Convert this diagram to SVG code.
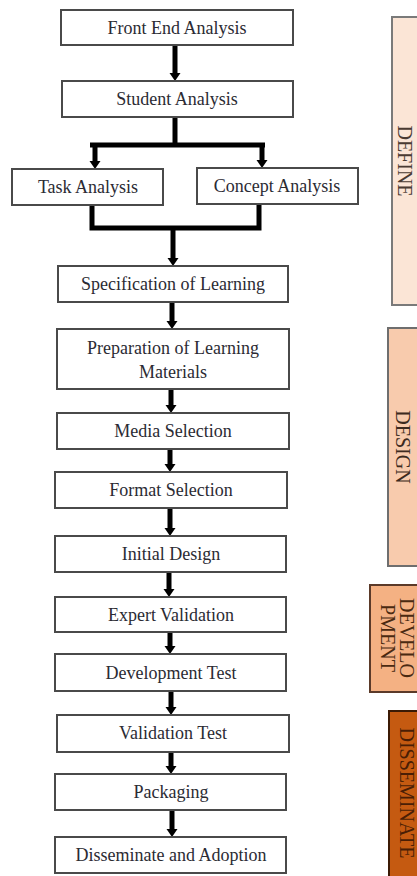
<svg xmlns="http://www.w3.org/2000/svg" width="417" height="876" viewBox="0 0 417 876">
  <style>
    .box { fill: #ffffff; stroke: #4a4a4a; stroke-width: 2; }
    .lbl { font-family: "Liberation Serif", "DejaVu Serif", serif; font-size: 18px; fill: #2b2b33; text-anchor: middle; dominant-baseline: central; }
    .flow { stroke: #000000; stroke-width: 5; fill: none; }
    .bar { stroke: #000000; stroke-width: 5; fill: none; stroke-linejoin: miter; }
    .phase { font-family: "Liberation Serif", "DejaVu Serif", serif; font-size: 20px; text-anchor: middle; dominant-baseline: central; }
  </style>
  <defs>
    <marker id="head" markerUnits="userSpaceOnUse" markerWidth="10" markerHeight="12" refX="0" refY="0" viewBox="0 -6 9 12" orient="auto" overflow="visible">
      <path d="M0,-5.5 L8,0 L0,5.5 Z" fill="#000000"/>
    </marker>
  </defs>

  <rect width="417" height="876" fill="#ffffff"/>

  <!-- phase bands on the right -->
  <g id="phase-define">
    <rect x="392" y="17" width="40" height="288" fill="#fbe5d6" stroke="#7a7a7a" stroke-width="2"/>
    <text class="phase" fill="#4a3a32" transform="translate(405,161) rotate(90)">DEFINE</text>
  </g>
  <g id="phase-design">
    <rect x="388" y="328" width="40" height="238" fill="#f8cbad" stroke="#6e6e6e" stroke-width="2"/>
    <text class="phase" fill="#3d2a20" transform="translate(403,447) rotate(90)">DESIGN</text>
  </g>
  <g id="phase-develop">
    <rect x="370" y="585" width="60" height="107" fill="#f4b183" stroke="#5b3a29" stroke-width="2"/>
    <text class="phase" font-size="18" fill="#4a2a12" transform="translate(407,638) rotate(90)">DEVELO</text>
    <text class="phase" font-size="18" fill="#4a2a12" transform="translate(388,638) rotate(90)">PMENT</text>
  </g>
  <g id="phase-disseminate">
    <rect x="389" y="711" width="40" height="180" fill="#c55a11" stroke="#3b1a05" stroke-width="2"/>
    <text class="phase" font-size="19" fill="#4a1e05" transform="translate(407,793) rotate(90)">DISSEMINATE</text>
  </g>

  <!-- connectors -->
  <g id="connectors">
    <line class="flow" x1="175" y1="45" x2="175" y2="73" marker-end="url(#head)"/>
    <!-- split into task / concept analysis -->
    <polyline class="bar" points="175,117 175,145"/>
    <polyline class="bar" points="90,145 265,145"/>
    <line class="flow" x1="95" y1="145" x2="95" y2="161" marker-end="url(#head)"/>
    <line class="flow" x1="262" y1="145" x2="262" y2="160" marker-end="url(#head)"/>
    <!-- merge into specification -->
    <polyline class="bar" points="92,205 92,228 259,228 259,204"/>
    <line class="flow" x1="173" y1="228" x2="173" y2="258" marker-end="url(#head)"/>
    <line class="flow" x1="172" y1="302" x2="172" y2="321" marker-end="url(#head)"/>
    <line class="flow" x1="171" y1="389" x2="171" y2="405" marker-end="url(#head)"/>
    <line class="flow" x1="170" y1="449" x2="170" y2="464" marker-end="url(#head)"/>
    <line class="flow" x1="170" y1="508" x2="170" y2="528" marker-end="url(#head)"/>
    <line class="flow" x1="169" y1="572" x2="169" y2="589" marker-end="url(#head)"/>
    <line class="flow" x1="170" y1="632" x2="170" y2="646" marker-end="url(#head)"/>
    <line class="flow" x1="171" y1="691" x2="171" y2="707" marker-end="url(#head)"/>
    <line class="flow" x1="171" y1="752" x2="171" y2="766" marker-end="url(#head)"/>
    <line class="flow" x1="172" y1="810" x2="172" y2="829" marker-end="url(#head)"/>
  </g>

  <!-- process steps -->
  <g id="front-end-analysis">
    <rect class="box" x="61" y="10" width="232" height="35"/>
    <text class="lbl" x="177" y="28">Front End Analysis</text>
  </g>
  <g id="student-analysis">
    <rect class="box" x="62" y="81" width="231" height="36"/>
    <text class="lbl" x="177" y="99">Student Analysis</text>
  </g>
  <g id="task-analysis">
    <rect class="box" x="12" y="169" width="151" height="36"/>
    <text class="lbl" x="88" y="187">Task Analysis</text>
  </g>
  <g id="concept-analysis">
    <rect class="box" x="197" y="168" width="161" height="36"/>
    <text class="lbl" x="277" y="186">Concept Analysis</text>
  </g>
  <g id="specification-of-learning">
    <rect class="box" x="58" y="266" width="230" height="36"/>
    <text class="lbl" x="173" y="284">Specification of Learning</text>
  </g>
  <g id="preparation-of-learning-materials">
    <rect class="box" x="57" y="329" width="232" height="60"/>
    <text class="lbl" x="173" y="348">Preparation of Learning</text>
    <text class="lbl" x="173" y="372">Materials</text>
  </g>
  <g id="media-selection">
    <rect class="box" x="57" y="413" width="232" height="36"/>
    <text class="lbl" x="173" y="431">Media Selection</text>
  </g>
  <g id="format-selection">
    <rect class="box" x="55" y="472" width="232" height="36"/>
    <text class="lbl" x="171" y="490">Format Selection</text>
  </g>
  <g id="initial-design">
    <rect class="box" x="55" y="536" width="231" height="36"/>
    <text class="lbl" x="171" y="554">Initial Design</text>
  </g>
  <g id="expert-validation">
    <rect class="box" x="55" y="597" width="231" height="35"/>
    <text class="lbl" x="171" y="615">Expert Validation</text>
  </g>
  <g id="development-test">
    <rect class="box" x="55" y="654" width="231" height="37"/>
    <text class="lbl" x="171" y="673">Development Test</text>
  </g>
  <g id="validation-test">
    <rect class="box" x="57" y="715" width="232" height="37"/>
    <text class="lbl" x="173" y="733">Validation Test</text>
  </g>
  <g id="packaging">
    <rect class="box" x="55" y="774" width="231" height="36"/>
    <text class="lbl" x="171" y="792">Packaging</text>
  </g>
  <g id="disseminate-and-adoption">
    <rect class="box" x="55" y="837" width="231" height="36"/>
    <text class="lbl" x="171" y="855">Disseminate and Adoption</text>
  </g>
</svg>
